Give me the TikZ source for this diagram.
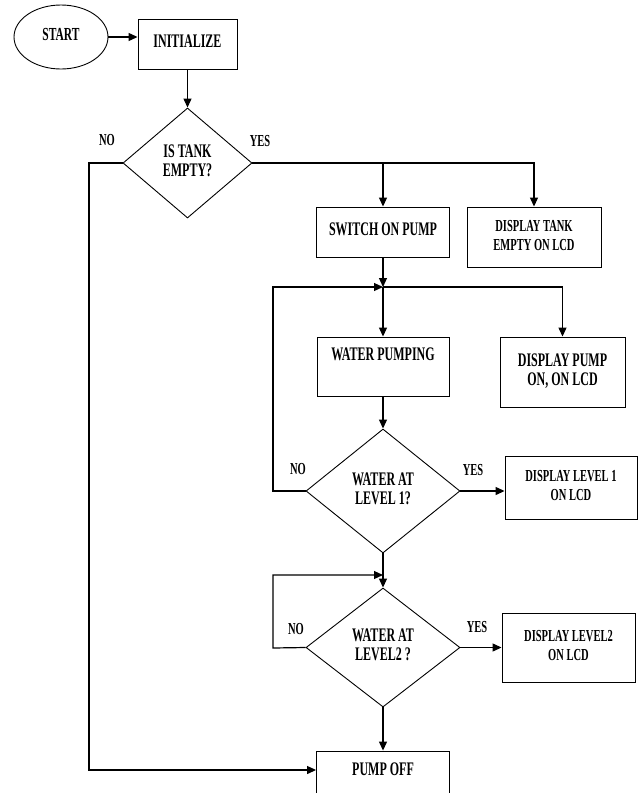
\documentclass[tikz,border=0pt]{standalone}
\usepackage{fontspec}
\setmainfont{Liberation Serif}
\usetikzlibrary{shapes.geometric}
\usetikzlibrary{arrows.meta}
\newcommand{\txt}[2][12]{\scalebox{1}[1.6]{\fontsize{#1}{11.9}\selectfont\bfseries\begin{tabular}{@{}c@{}}#2\end{tabular}}}
\newcommand{\colx}{383}
\newcommand{\widthbox}{133pt}
\tikzset{
    common/.style={draw, line width=0.9pt, inner sep=0pt},
    stepbox/.style={common, rectangle, minimum width=\widthbox, minimum height=50pt},
    decision/.style={common, diamond, minimum width=154pt, minimum height=122pt},
    terminal/.style={common, ellipse, minimum width=94pt, minimum height=64pt},
    flow/.style={line width=1.2pt, -{Triangle[length=9pt,width=8pt]}},
    answer/.style={inner sep=0pt}
}

\begin{document}
\begin{tikzpicture}[x=1pt, y=-1pt]
        \useasboundingbox (0,0) rectangle (638,793);
        \clip (0,0) rectangle (638,793);

        \path
            node[terminal] (start) at (61,37) {\txt[11.5]{START}}
            node[stepbox, minimum width=99pt] (init) at (187.5,44) {\txt{INITIALIZE}}
            node[decision, minimum width=129pt, minimum height=110pt] (tank) at (187.5,163) {\txt{IS TANK\\EMPTY?}}
            node[stepbox] (switch) at (\colx,232) {\txt{SWITCH ON PUMP}}
            node[stepbox, minimum width=134pt, minimum height=60pt] (dtank) at (534,237) {\txt[10.5]{DISPLAY TANK\\EMPTY ON LCD}}
            node[stepbox, minimum width=132pt, minimum height=59pt] (pumping) at (\colx,366.5) {\txt{WATER PUMPING\\~}}
            node[stepbox, minimum width=125pt, minimum height=70pt] (dpump) at (562.5,372) {\txt{DISPLAY PUMP\\ON, ON LCD}}
            node[decision, minimum height=124pt] (water1) at (\colx,491) {\txt{WATER AT\\LEVEL 1?}}
            node[stepbox, minimum width=132pt, minimum height=63pt] (dlevel1) at (571,487.5) {\txt[10.5]{DISPLAY LEVEL 1\\ON LCD}}
            node[decision, minimum height=119pt] (water2) at (\colx,647.5) {\txt{WATER AT\\LEVEL2 ?}}
            node[stepbox, minimum height=69pt] (dlevel2) at (568.5,647.5) {\txt[10.5]{DISPLAY LEVEL2\\ON LCD}}
            node[stepbox, minimum height=60pt] (pumpoff) at (\colx,781) {\txt{PUMP OFF\\~}};

        \path
            node[answer] (no1) at (107,142) {\txt[10.5]{NO}}
            node[answer] (yes1) at (260,143) {\txt[10.5]{YES}}
            node[answer] (no2) at (298,471) {\txt[10.5]{NO}}
            node[answer] (yes2) at (473,472) {\txt[10.5]{YES}}
            node[answer] (no3) at (296,631) {\txt[10.5]{NO}}
            node[answer] (yes3) at (477,629) {\txt[10.5]{YES}};

        \coordinate (nocorner) at (89,770);
        \coordinate (join1) at (\colx,287);
        \coordinate (loop1) at (273,491);
        \coordinate (join2) at (\colx,575);
        \coordinate (loop2) at (273,648);

        \draw[flow] (start) -- (start -| init.west);
        \draw[flow] (init) -- (tank);
        \draw[flow] (tank.west) -| (nocorner) -- (nocorner -| pumpoff.west);
        \draw[flow] (tank.east) -| (dtank.north);
        \draw[flow] (tank.east -| switch.north) -- (switch.north);
        \draw[flow] (switch) -- (join1);
        \draw[flow] (join1) -- (pumping);
        \draw[flow] (join1) -| (dpump.north);
        \draw[flow] (water1.west) -- (loop1) |- (join1);
        \draw[flow] (pumping) -- (water1);
        \draw[flow] (water1.east) -- (water1.east -| dlevel1.west);
        \draw[flow] (water1) -- (water2);
        \draw[flow] (water2.west) -- (loop2) |- (join2);
        \draw[flow] (water2.east) -- (water2.east -| dlevel2.west);
        \draw[flow] (water2) -- (pumpoff);
    \end{tikzpicture}
\end{document}
